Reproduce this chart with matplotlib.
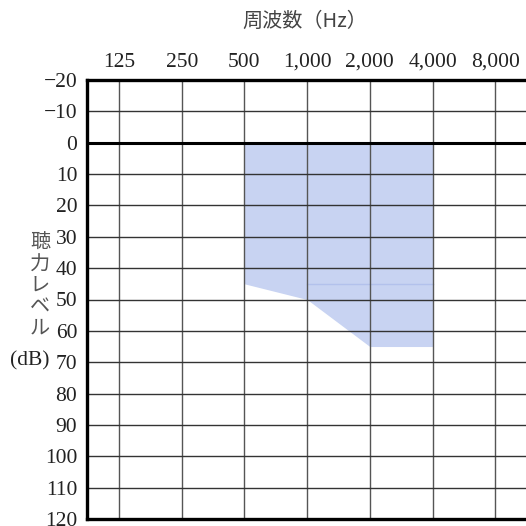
import matplotlib
matplotlib.use("Agg")
import matplotlib.pyplot as plt
import numpy as np

# Data
freqs = [125, 250, 500, 1000, 2000, 4000, 8000]
freq_labels = ["125", "250", "500", "1,000", "2,000", "4,000", "8,000"]
levels = list(range(-20, 121, 10))
level_labels = [("\u2212" + str(abs(v))) if v < 0 else str(v) for v in levels]
band_freqs = [500, 1000, 2000, 4000]
band_top = [0, 0, 0, 0]
band_bottom = [45, 50, 65, 65]
seam_freqs = [1000, 4000]
seam_level = [45, 45]

W = H = 526
fig = plt.figure(figsize=(W / 100, H / 100), dpi=100)
left, right, top, bottom = 87, 526, 80, 519
ax = fig.add_axes([left / W, 1 - bottom / H, (right - left) / W, (bottom - top) / H])

ax.set_xscale("log", base=2)
ax.set_xlim(125 / 2 ** 0.51, 8000 * 2 ** 0.49)
ax.set_ylim(120, -20)

fill_color = "#c8d3f2"
ax.fill_between(band_freqs, band_top, band_bottom, color=fill_color, lw=0, zorder=1)
ax.plot(seam_freqs, seam_level, color="#b3c1ec", lw=1.0, zorder=1.5)

# Grid lines
for f in freqs:
    ax.axvline(f, color="#555555", lw=1.0, zorder=2)
for v in levels:
    if v == 0:
        ax.axhline(v, color="black", lw=2.2, zorder=3)
    else:
        ax.axhline(v, color="#333333", lw=1.0, zorder=2)

ax.xaxis.tick_top()
ax.set_xticks(freqs)
ax.set_xticklabels(freq_labels)
ax.xaxis.set_minor_locator(matplotlib.ticker.NullLocator())
ax.set_yticks(levels)
ax.set_yticklabels(level_labels)
ax.tick_params(axis="both", length=0, labelsize=15.5, colors="#222222")
ax.tick_params(axis="x", pad=6)
ax.tick_params(axis="y", pad=7)
for lab in ax.get_xticklabels() + ax.get_yticklabels():
    lab.set_family("Liberation Serif")

for s in ["left", "top", "bottom"]:
    ax.spines[s].set_linewidth(2.4)
    ax.spines[s].set_color("black")
    ax.spines[s].set_zorder(4)
ax.spines["right"].set_visible(False)

# Title
fig.text(305 / W, 1 - 21 / H, "周波数（Hz）", ha="center", va="center",
         fontsize=14.5, color="#444444", family=["Noto Sans CJK JP", "DejaVu Sans"])

# Vertical Japanese y-label
ychars = ["聴", "力", "レ", "ベ", "ル"]
ypos = [243, 265, 286, 307, 328]
for ch, yp in zip(ychars, ypos):
    fig.text(40 / W, 1 - yp / H, ch, ha="center", va="center", fontsize=14.5,
             color="#555555", family=["Noto Sans CJK JP", "DejaVu Sans"])
fig.text(30 / W, 1 - 361 / H, "(dB)", ha="center", va="center", fontsize=15.5,
         color="#222222", family="Liberation Serif")

fig.savefig("out.png", dpi=100)
